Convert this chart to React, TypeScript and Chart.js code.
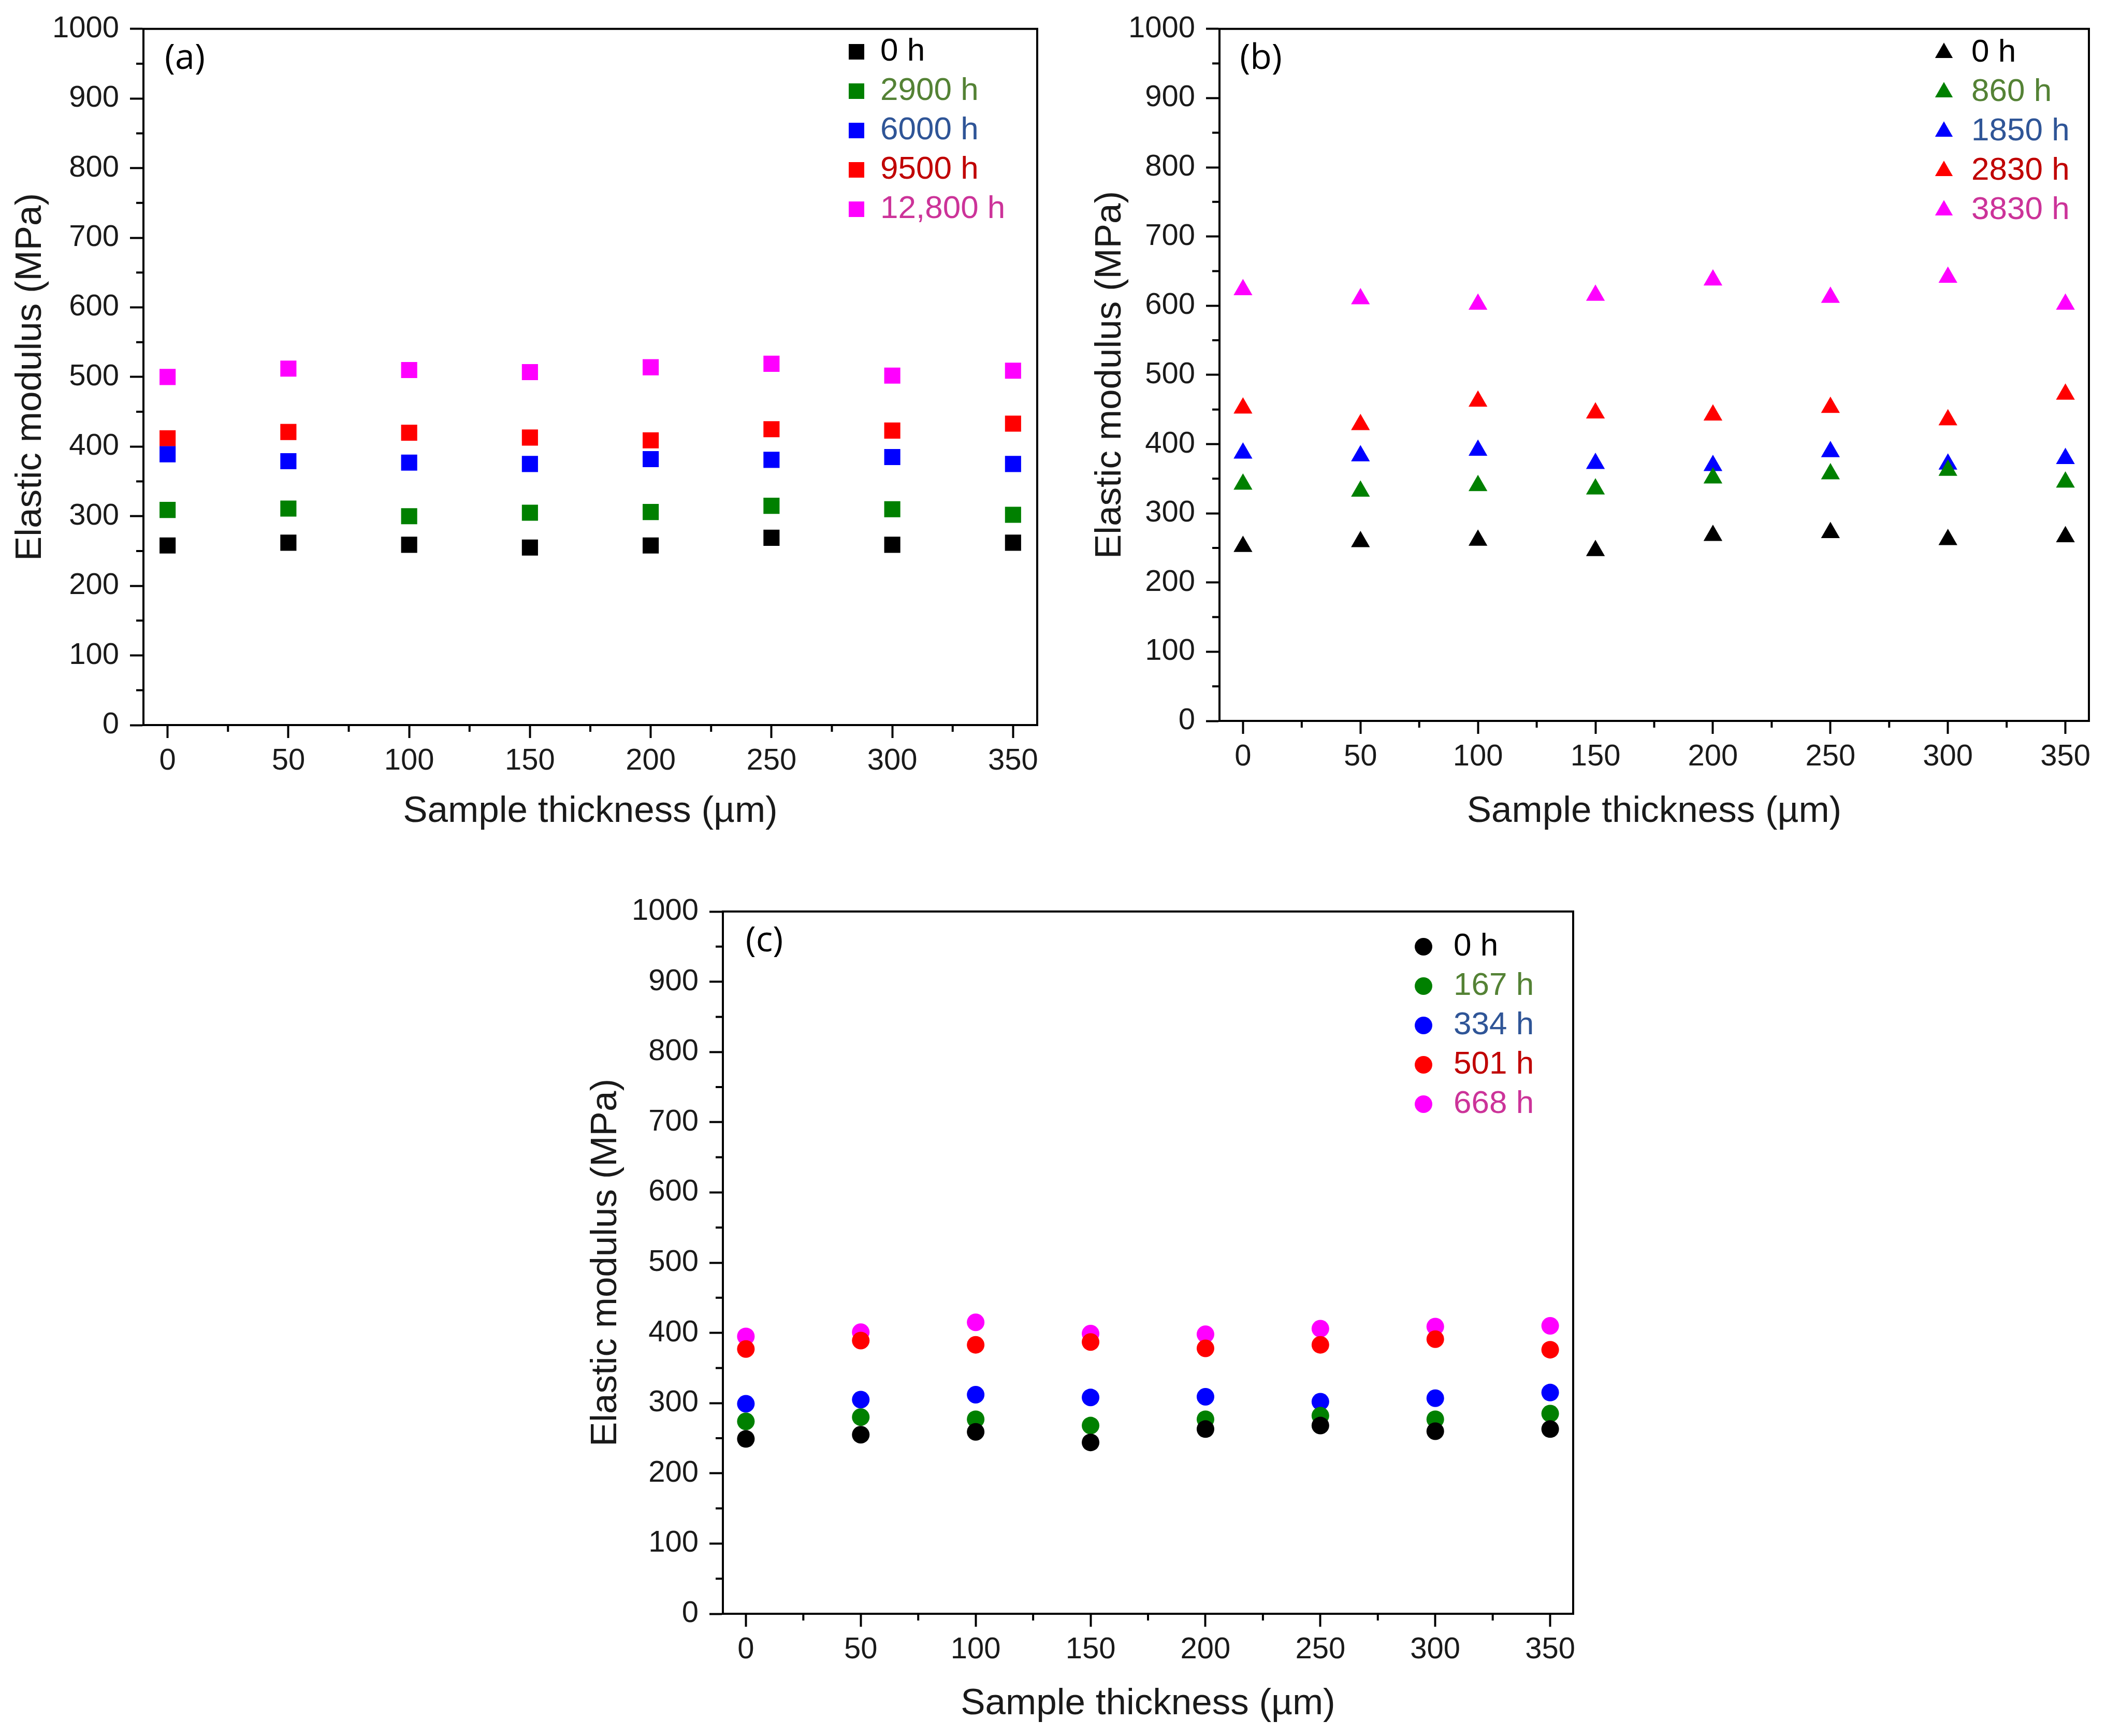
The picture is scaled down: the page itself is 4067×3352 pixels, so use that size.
import React, { useEffect, useRef } from "react";
import { Chart, registerables, ChartConfiguration, Plugin } from "chart.js";

Chart.register(...registerables);

// shared axes
const thickness = [0, 50, 100, 150, 200, 250, 300, 350];
const xTickValues = [0, 50, 100, 150, 200, 250, 300, 350];
const xMinorTicks = [25, 75, 125, 175, 225, 275, 325];
const yTickValues = [0, 100, 200, 300, 400, 500, 600, 700, 800, 900, 1000];
const yMinorTicks = [50, 150, 250, 350, 450, 550, 650, 750, 850, 950];

const markerColors = ["#000000", "#008000", "#0000ff", "#ff0000", "#ff00ff"];
const legendTextColors = ["#000000", "#548235", "#2f5597", "#c00000", "#cc3399"];

// (a) squares
const agingLabelsA = ["0 h", "2900 h", "6000 h", "9500 h", "12,800 h"];
const modulusA0 = [258, 262, 259, 255, 258, 269, 259, 262];
const modulusA2900 = [309, 311, 300, 305, 306, 315, 310, 302];
const modulusA6000 = [389, 379, 377, 375, 382, 381, 385, 375];
const modulusA9500 = [412, 421, 420, 413, 409, 425, 423, 433];
const modulusA12800 = [500, 512, 510, 507, 514, 519, 502, 509];

// (b) triangles
const agingLabelsB = ["0 h", "860 h", "1850 h", "2830 h", "3830 h"];
const modulusB0 = [252, 259, 261, 246, 268, 272, 262, 266];
const modulusB860 = [342, 332, 340, 335, 351, 357, 362, 345];
const modulusB1850 = [387, 383, 391, 372, 369, 389, 371, 379];
const modulusB2830 = [452, 428, 462, 445, 442, 453, 435, 472];
const modulusB3830 = [623, 610, 602, 615, 637, 612, 641, 602];

// (c) circles
const agingLabelsC = ["0 h", "167 h", "334 h", "501 h", "668 h"];
const modulusC0 = [249, 255, 259, 244, 263, 268, 260, 263];
const modulusC167 = [274, 280, 277, 268, 277, 282, 277, 285];
const modulusC334 = [299, 305, 312, 308, 309, 302, 307, 315];
const modulusC501 = [377, 389, 383, 387, 378, 383, 391, 376];
const modulusC668 = [395, 401, 415, 399, 398, 406, 409, 410];

const FONT = "'Liberation Sans', Arial, sans-serif";
const LEGEND_SIZE = 62;
const LEGEND_PAD = 14;

type PanelProps = {
  tag: string;
  labels: string[];
  series: number[][];
  pointStyle: "rect" | "triangle" | "circle";
  pointRadius: number;
  legendBoxWidth: number;
  legendBoxHeight: number;
  legendX: number;
  legendY: number;
  left: number;
  top: number;
  width: number;
  height: number;
  yAxisWidth: number;
  xAxisHeight: number;
  padTop: number;
  padRight: number;
  yTitlePad: number;
  xTitlePad: number;
};

// frame, minor ticks, panel tag, and moving the legend into the top-right corner
const framePlugin: Plugin<"scatter"> = {
  id: "frame",
  afterLayout(chart, _args, opts: any) {
    const lg: any = chart.legend;
    if (!lg) return;
    const left = opts.legendX - opts.boxWidth / 2 - LEGEND_PAD;
    const top = opts.legendY - LEGEND_SIZE / 2 - LEGEND_PAD;
    lg.left = left;
    lg.right = left + lg.width;
    lg.top = top;
    lg.bottom = top + lg.height;
  },
  afterDraw(chart, _args, opts: any) {
    const { ctx, chartArea: a, scales } = chart;
    ctx.save();
    ctx.strokeStyle = "#000";
    ctx.lineWidth = 4;
    ctx.beginPath();
    ctx.moveTo(a.left - 2, a.top);
    ctx.lineTo(a.right, a.top);
    ctx.lineTo(a.right, a.bottom + 2);
    ctx.stroke();

    ctx.beginPath();
    xMinorTicks.forEach((v) => {
      const px = scales.x.getPixelForValue(v);
      ctx.moveTo(px, a.bottom);
      ctx.lineTo(px, a.bottom + 13);
    });
    yMinorTicks.forEach((v) => {
      const py = scales.y.getPixelForValue(v);
      ctx.moveTo(a.left, py);
      ctx.lineTo(a.left - 14, py);
    });
    ctx.stroke();

    ctx.fillStyle = "#000";
    ctx.font = "68px 'Open Sans', sans-serif";
    ctx.textAlign = "center";
    ctx.textBaseline = "middle";
    ctx.fillText(opts.tag, a.left + 80, a.top + 58);
    ctx.restore();
  },
};

const ScatterPanel: React.FC<PanelProps> = (p) => {
  const canvasRef = useRef<HTMLCanvasElement | null>(null);

  useEffect(() => {
    if (!canvasRef.current) return;

    const config: ChartConfiguration<"scatter"> = {
      type: "scatter",
      data: {
        datasets: p.series.map((vals, i) => ({
          label: p.labels[i],
          data: vals.map((y, k) => ({ x: thickness[k], y })),
          pointStyle: p.pointStyle,
          pointRadius: p.pointRadius,
          pointHoverRadius: p.pointRadius,
          backgroundColor: markerColors[i],
          borderColor: markerColors[i],
          pointBorderWidth: 0,
          showLine: false,
        })),
      },
      options: {
        responsive: false,
        animation: false,
        devicePixelRatio: 1,
        layout: { padding: { top: p.padTop, right: p.padRight, left: 0, bottom: 0 } },
        plugins: {
          tooltip: { enabled: false },
          legend: {
            position: "chartArea",
            align: "start",
            labels: {
              usePointStyle: true,
              boxWidth: p.legendBoxWidth,
              boxHeight: p.legendBoxHeight,
              padding: LEGEND_PAD,
              font: { family: FONT, size: LEGEND_SIZE },
              generateLabels: () =>
                p.labels.map((text, i) => ({
                  text,
                  fillStyle: markerColors[i],
                  strokeStyle: markerColors[i],
                  lineWidth: 0,
                  pointStyle: p.pointStyle,
                  fontColor: legendTextColors[i],
                  hidden: false,
                  datasetIndex: i,
                })),
            },
          },
          frame: {
            tag: p.tag,
            legendX: p.legendX,
            legendY: p.legendY,
            boxWidth: p.legendBoxWidth,
          },
        } as any,
        scales: {
          x: {
            type: "linear",
            min: -10,
            max: 360,
            afterBuildTicks: (s) => {
              s.ticks = xTickValues.map((value) => ({ value }));
            },
            afterFit: (s) => {
              s.height = p.xAxisHeight;
            },
            grid: {
              drawOnChartArea: false,
              drawTicks: true,
              tickLength: 25,
              tickWidth: 4,
              tickColor: "#000",
            },
            border: { display: true, color: "#000", width: 4 },
            ticks: {
              padding: 10,
              color: "#1a1a1a",
              font: { family: FONT, size: 58 },
              maxRotation: 0,
              autoSkip: false,
              callback: (v) => String(v),
            },
            title: {
              display: true,
              text: "Sample thickness (µm)",
              color: "#1a1a1a",
              font: { family: FONT, size: 71 },
              padding: { top: 0, bottom: p.xTitlePad },
            },
          },
          y: {
            type: "linear",
            min: 0,
            max: 1000,
            afterBuildTicks: (s) => {
              s.ticks = yTickValues.map((value) => ({ value }));
            },
            afterFit: (s) => {
              s.width = p.yAxisWidth;
            },
            grid: {
              drawOnChartArea: false,
              drawTicks: true,
              tickLength: 26,
              tickWidth: 4,
              tickColor: "#000",
            },
            border: { display: true, color: "#000", width: 4 },
            ticks: {
              padding: 21,
              color: "#1a1a1a",
              font: { family: FONT, size: 58 },
              autoSkip: false,
              callback: (v) => String(v),
            },
            title: {
              display: true,
              text: "Elastic modulus (MPa)",
              color: "#1a1a1a",
              font: { family: FONT, size: 71 },
              padding: { top: p.yTitlePad, bottom: 0 },
            },
          },
        },
      },
      plugins: [framePlugin],
    };

    const chart = new Chart(canvasRef.current, config);
    return () => {
      chart.destroy();
    };
  }, [p]);

  return (
    <canvas
      ref={canvasRef}
      width={p.width}
      height={p.height}
      style={{
        position: "absolute",
        left: p.left,
        top: p.top,
        width: p.width,
        height: p.height,
      }}
    />
  );
};

const panelA: PanelProps = {
  tag: "(a)",
  labels: agingLabelsA,
  series: [modulusA0, modulusA2900, modulusA6000, modulusA9500, modulusA12800],
  pointStyle: "rect",
  pointRadius: 22,
  legendBoxWidth: 30,
  legendBoxHeight: 30,
  legendX: 1654,
  legendY: 100,
  left: 0,
  top: 0,
  width: 2040,
  height: 1650,
  yAxisWidth: 277,
  xAxisHeight: 250,
  padTop: 41,
  padRight: 37,
  yTitlePad: 17,
  xTitlePad: 40,
};

const panelB: PanelProps = {
  tag: "(b)",
  labels: agingLabelsB,
  series: [modulusB0, modulusB860, modulusB1850, modulusB2830, modulusB3830],
  pointStyle: "triangle",
  pointRadius: 21,
  legendBoxWidth: 44,
  legendBoxHeight: 28,
  legendX: 1714,
  legendY: 102,
  left: 2040,
  top: 0,
  width: 2027,
  height: 1650,
  yAxisWidth: 315,
  xAxisHeight: 258,
  padTop: 44,
  padRight: 33,
  yTitlePad: 62,
  xTitlePad: 40,
};

const panelC: PanelProps = {
  tag: "(c)",
  labels: agingLabelsC,
  series: [modulusC0, modulusC167, modulusC334, modulusC501, modulusC668],
  pointStyle: "circle",
  pointRadius: 17,
  legendBoxWidth: 54,
  legendBoxHeight: 24,
  legendX: 1649,
  legendY: 128,
  left: 1100,
  top: 1700,
  width: 2000,
  height: 1652,
  yAxisWidth: 296,
  xAxisHeight: 236,
  padTop: 60,
  padRight: 62,
  yTitlePad: 28,
  xTitlePad: 19,
};

const App: React.FC = () => {
  return (
    <div
      style={{
        position: "absolute",
        left: 0,
        top: 0,
        width: 4067,
        height: 3352,
        background: "#ffffff",
      }}
    >
      <ScatterPanel {...panelA} />
      <ScatterPanel {...panelB} />
      <ScatterPanel {...panelC} />
    </div>
  );
};

export default App;
